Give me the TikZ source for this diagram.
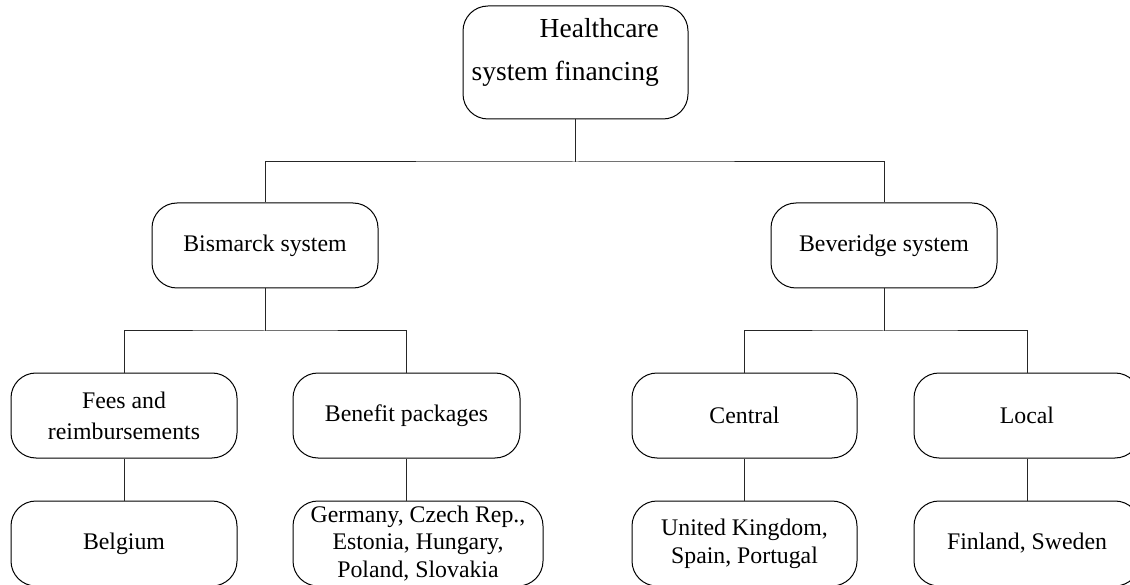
\documentclass[tikz,border=0pt]{standalone}
\usepackage{fontspec}
\setmainfont{Liberation Serif}
\begin{document}
\begin{tikzpicture}[x=1pt,y=-1pt,
  box/.style={draw=black, line width=1pt, rounded corners=25pt, rectangle,
    minimum width=226pt, minimum height=85pt, inner sep=0pt, align=center,
    font=\fontsize{23.8}{28}\selectfont},
  conn/.style={draw=black!85, line width=1pt},
]
\useasboundingbox (0,0) rectangle (1130,585);
\clip (0,0) rectangle (1130,585);
% top
\node[box, minimum width=225pt, minimum height=113pt] (top) at (575.5,62.5) {};
\node[inner sep=0pt, align=right, anchor=east, font=\fontsize{27.5}{43}\selectfont] (toptext) at (659,52) {Healthcare\\system financing};
% level 2
\node[box] (bis) at (265,245.5) {Bismarck system};
\node[box] (bev) at (884,245.5) {Beveridge system};
% level 3
\node[box, font=\fontsize{23.8}{31}\selectfont] (fees) at (124,415.5) {Fees and\\reimbursements};
\node[box, minimum width=227pt] (ben) at (406.5,415.5) {Benefit packages};
\node[box, minimum width=225pt] (cen) at (744.5,415.5) {Central};
\node[box] (loc) at (1027,415.5) {Local};
% level 4
\node[box] (bel) at (124,543.5) {Belgium};
\node[box, minimum width=250pt, font=\fontsize{23.8}{27.5}\selectfont] (ger) at (418,543.5) {Germany, Czech Rep.,\\Estonia, Hungary,\\Poland, Slovakia};
\node[box, minimum width=225pt] (uk) at (744.5,543.5) {United Kingdom,\\Spain, Portugal};
\node[box] (fin) at (1027,543.5) {Finland, Sweden};
% connectors
\coordinate (h1) at (575.5,162);
\coordinate (h2) at (265,331);
\coordinate (h3) at (884,331);
\draw[conn] (top.south) -- (h1);
\draw[conn] (bis.north) |- (h1) -| (bev.north);
\draw[conn] (bis.south) -- (h2);
\draw[conn] (fees.north) |- (h2) -| (ben.north);
\draw[conn] (bev.south) -- (h3);
\draw[conn] (cen.north) |- (h3) -| (loc.north);
\draw[conn] (fees.south) -- (bel.north);
\draw[conn] (ben.south) -- (ben.south |- ger.north);
\draw[conn] (cen.south) -- (uk.north);
\draw[conn] (loc.south) -- (fin.north);
\end{tikzpicture}
\end{document}
